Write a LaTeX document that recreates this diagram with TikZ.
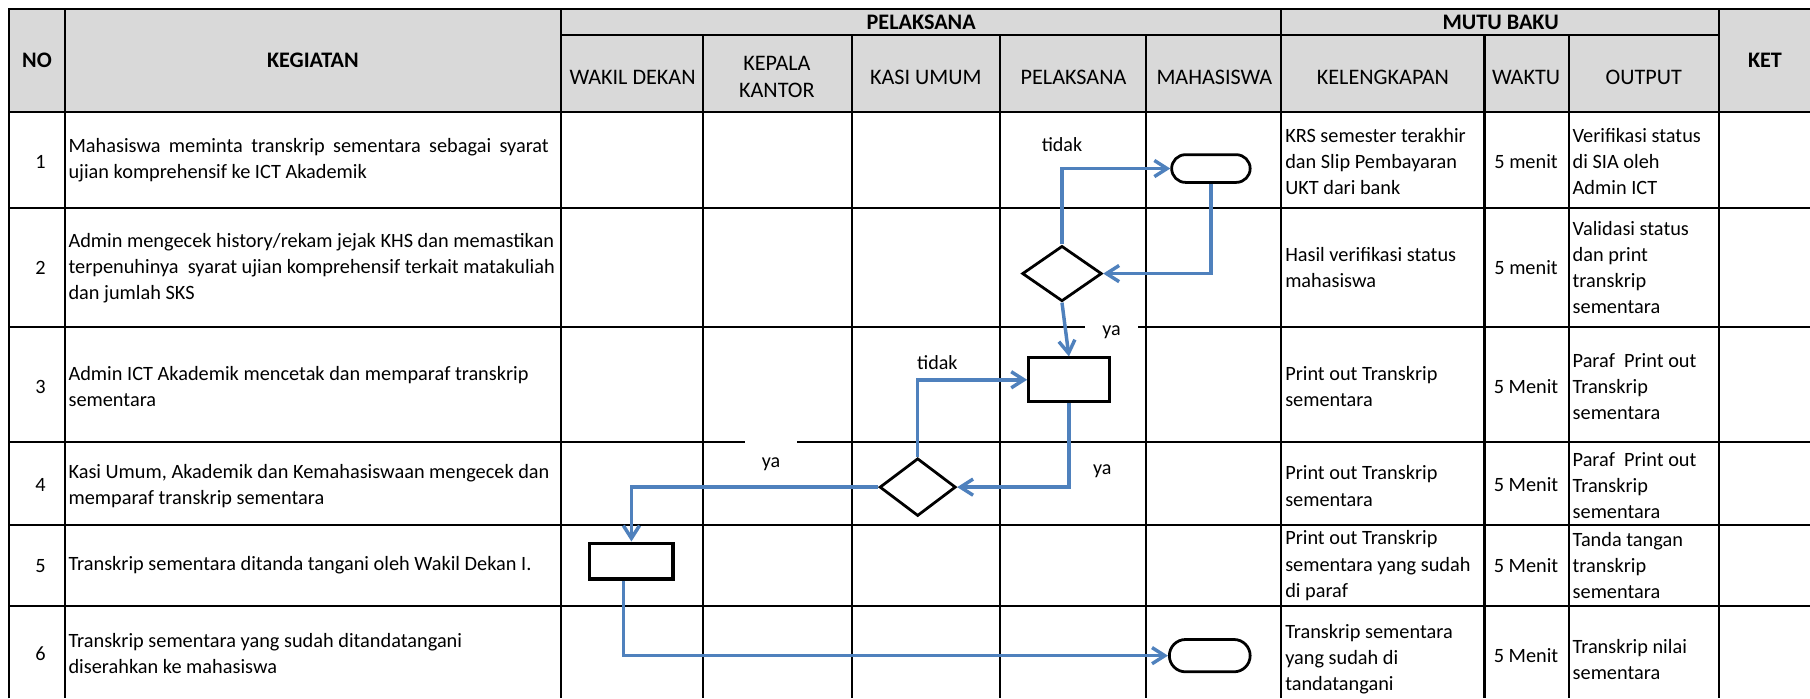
\documentclass[tikz,border=0pt]{standalone}
\usepackage{fontspec}
\setmainfont{Carlito}
\usetikzlibrary{arrows.meta,shapes.geometric,shapes.misc}
\definecolor{flowblue}{HTML}{4F81BD}
\definecolor{headgray}{HTML}{D9D9D9}

\begin{document}
\begin{tikzpicture}[x=0.5pt, y=-0.5pt,
  grid/.style={line width=0.9pt},
  txt/.style={font=\fontsize{8.8}{11.3}\selectfont, inner sep=0},
  cell/.style={txt, anchor=west, align=left},
  hd/.style={font=\fontsize{9.6}{11.6}\selectfont, inner sep=0, align=center},
  hdb/.style={font=\fontsize{9.6}{11.6}\selectfont\bfseries, inner sep=0},
  flow/.style={draw, line width=1.2pt, inner sep=0},
  link/.style={draw=flowblue, line width=1.5pt, -{Straight Barb[length=5.5pt, width=7pt]}},
  lbl/.style={txt, font=\fontsize{8.7}{11.3}\selectfont}]
  \useasboundingbox (0,0) rectangle (1568,605);
  \fill[headgray] (8,8) rectangle (1568,97);

  \draw[grid] (8,605) -- (8,8) -- (1568,8);
  \draw[grid] (486,30) -- (1489,30);
  \draw[grid] (8,97) -- (1568,97);
  \draw[grid] (8,180) -- (1568,180);
  \draw[grid] (8,283) -- (1568,283);
  \draw[grid] (8,383) -- (1568,383);
  \draw[grid] (8,455) -- (1568,455);
  \draw[grid] (8,525) -- (1568,525);
  \draw[grid] (56,8) -- (56,605);
  \draw[grid] (486,8) -- (486,605);
  \draw[grid] (609,30) -- (609,605);
  \draw[grid] (738,30) -- (738,605);
  \draw[grid] (866,30) -- (866,605);
  \draw[grid] (993,30) -- (993,605);
  \draw[grid] (1110,8) -- (1110,605);
  \draw[grid] (1286,30) -- (1286,605);
  \draw[grid] (1359,30) -- (1359,605);
  \draw[grid] (1489,8) -- (1489,605);

  \node[hdb] (hno) at (32,52) {NO};
  \node[hdb] (hkeg) at (271,52) {KEGIATAN};
  \node[hdb] (hpel) at (798,19) {PELAKSANA};
  \node[hdb] (hmutu) at (1300,19) {MUTU BAKU};
  \node[hdb] (hket) at (1529,52) {KET};
  \node[hd] (hwd) at (548,67) {WAKIL DEKAN};
  \node[hd] (hkk) at (673,67) {KEPALA\\KANTOR};
  \node[hd] (hku) at (802,67) {KASI UMUM};
  \node[hd] (hpl) at (930,67) {PELAKSANA};
  \node[hd] (hmhs) at (1052,67) {MAHASISWA};
  \node[hd] (hlkp) at (1198,67) {KELENGKAPAN};
  \node[hd] (hwkt) at (1322,67) {WAKTU};
  \node[hd] (hout) at (1424,67) {OUTPUT};

  \node[txt] (n1) at (35,140) {1};
  \node[txt] (n2) at (35,232) {2};
  \node[txt] (n3) at (35,335) {3};
  \node[txt] (n4) at (35,420) {4};
  \node[txt] (n5) at (35,490) {5};
  \node[txt] (n6) at (35,566) {6};

  \node[cell] (keg1) at (59,139) {\makebox[208pt][s]{Mahasiswa meminta transkrip sementara sebagai syarat}\\ujian komprehensif ke ICT Akademik};
  \node[cell] (keg2) at (59,232) {Admin mengecek history/rekam jejak KHS dan memastikan\\terpenuhinya~ syarat ujian komprehensif terkait matakuliah\\dan jumlah SKS};
  \node[cell] (keg3) at (59,335) {Admin ICT Akademik mencetak dan memparaf transkrip\\sementara};
  \node[cell] (keg4) at (59,421) {Kasi Umum, Akademik dan Kemahasiswaan mengecek dan\\memparaf transkrip sementara};
  \node[cell] (keg5) at (59,490) {Transkrip sementara ditanda tangani oleh Wakil Dekan I.};
  \node[cell] (keg6) at (59,566) {Transkrip sementara yang sudah ditandatangani\\diserahkan ke mahasiswa};

  \node[cell] (lkp1) at (1113,140) {KRS semester terakhir\\dan Slip Pembayaran\\UKT dari bank};
  \node[cell] (lkp2) at (1113,232) {Hasil verifikasi status\\mahasiswa};
  \node[cell] (lkp3) at (1113,335) {Print out Transkrip\\sementara};
  \node[cell] (lkp4) at (1113,421) {Print out Transkrip\\sementara};
  \node[cell] (lkp5) at (1113,490) {Print out Transkrip\\sementara yang sudah\\di paraf};
  \node[cell] (lkp6) at (1113,571) {Transkrip sementara\\yang sudah di\\tandatangani};

  \node[txt] (wkt1) at (1322,140) {5 menit};
  \node[txt] (wkt2) at (1322,232) {5 menit};
  \node[txt] (wkt3) at (1322,335) {5 Menit};
  \node[txt] (wkt4) at (1322,420) {5 Menit};
  \node[txt] (wkt5) at (1322,490) {5 Menit};
  \node[txt] (wkt6) at (1322,568) {5 Menit};

  \node[cell] (out1) at (1362,140) {Verifikasi status\\di SIA oleh\\Admin ICT};
  \node[cell] (out2) at (1362,232) {Validasi status\\dan print\\transkrip\\sementara};
  \node[cell] (out3) at (1362,335) {Paraf~ Print out\\Transkrip\\sementara};
  \node[cell] (out4) at (1362,421) {Paraf~ Print out\\Transkrip\\sementara};
  \node[cell] (out5) at (1362,490) {Tanda tangan\\transkrip\\sementara};
  \node[cell] (out6) at (1362,571) {Transkrip nilai\\sementara};

  \node[flow, rounded rectangle, minimum width=34pt, minimum height=12pt] (mulai) at (1049,146) {};
  \node[flow, diamond, minimum width=34.5pt, minimum height=24pt] (cek) at (920,237) {};
  \node[flow, rectangle, minimum width=35pt, minimum height=19pt] (cetak) at (926,329) {};
  \node[flow, diamond, minimum width=33pt, minimum height=25pt] (paraf) at (795,422) {};
  \node[flow, rectangle, line width=1.4pt, minimum width=36pt, minimum height=15.5pt] (ttd) at (547,486) {};
  \node[flow, rounded rectangle, minimum width=35pt, minimum height=14pt] (selesai) at (1048,568) {};

  \draw[link] (cek.north) |- (mulai.west);
  \draw[link] (mulai.south) |- (cek.east);
  \draw[link] (cek.south) -- (cetak.north);
  \draw[link] (cetak.south) |- (paraf.east);
  \draw[link] (paraf.north) |- (cetak.west);
  \draw[link] (paraf.west) -| (ttd.north);
  \draw[link] ([xshift=-3.5pt]ttd.south) |- (selesai.west);

  \node[lbl] (tidak1) at (920,125) {tidak};
  \node[lbl, fill=white, anchor=base, minimum width=23pt, text height=12pt, text depth=2pt] (ya1) at (963,291) {ya};
  \node[lbl] (tidak2) at (812,314) {tidak};
  \node[lbl] (ya2) at (955,408) {ya};
  \node[lbl, fill=white, anchor=base, minimum width=22.5pt, text height=13pt, text depth=2pt] (ya3) at (668,405) {ya};
\end{tikzpicture}
\end{document}
